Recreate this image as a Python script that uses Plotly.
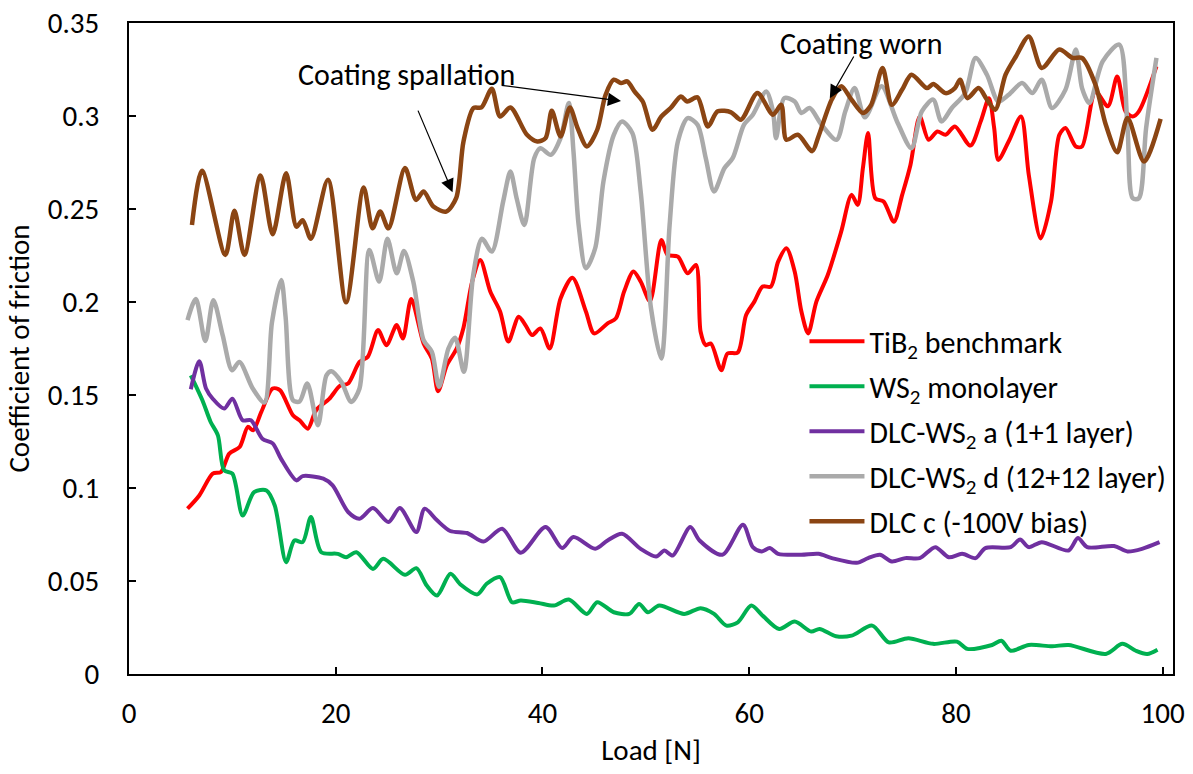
import plotly.graph_objects as go

# ---- data ----
load_tib2 = [5.66,6.8,8.1,8.9,9.7,10.7,11.5,12.0,12.8,13.9,14.6,15.86,16.5,17.3,18.1,19.4,20.4,21.2,22.3,23.1,
             24.1,24.9,25.9,26.5,27.3,28.5,29.3,29.9,30.75,31.7,32.36,33.2,33.98,34.95,35.9,36.7,37.7,38.35,39.0,39.8,
             40.7,41.75,42.9,44.2,45.0,46.3,47.1,47.9,48.8,49.5,50.4,51.5,52.1,53.1,54.05,54.85,55.3,55.8,56.3,57.3,
             57.9,58.9,59.7,60.5,61.3,62.1,62.8,63.6,64.4,65.05,65.7,66.5,67.6,68.9,69.9,70.5,71.0,71.5,72.2,73.0,
             74.0,74.8,75.6,76.5,77.35,78.2,79.0,79.9,81.4,82.4,83.2,83.7,84.1,85.1,86.3,87.05,88.2,89.2,90.0,90.6,
             91.6,92.2,93.5,94.7,95.6,96.4,97.1,97.7,99.4]
cof_tib2 = [.0889,.096,.1077,.1086,.1185,.122,.1329,.131,.1409,.1535,.1526,.1391,.1364,.1319,.1418,.1481,.1549,.1562,.1678,.1705,
            .1849,.1768,.1876,.1804,.2016,.1777,.1696,.152,.166,.175,.1862,.211,.2226,.2056,.1949,.1787,.1921,.1876,.1822,.1858,
            .175,.2019,.213,.1949,.1831,.1885,.1912,.2056,.2164,.211,.2005,.2334,.2253,.2244,.2154,.2199,.184,.1768,.1777,.1633,
            .1723,.1729,.193,.2002,.2083,.2083,.2217,.2289,.2164,.1949,.1831,.2002,.2145,.2378,.2576,.2522,.272,.2908,.2558,.254,
            .2432,.2576,.2737,.2997,.2872,.2917,.2899,.2944,.2841,.2971,.3096,.2935,.2764,.2863,.2997,.2683,.2342,.254,.2899,.2935,
            .2836,.2836,.3132,.3052,.3213,.3025,.2997,.3025,.3267]

load_ws2 = [5.98,7.1,7.9,8.6,9.2,10.0,11.0,12.1,13.3,14.1,15.2,16.0,16.8,17.6,18.6,20.2,21.0,22.0,23.6,24.6,
            26.7,27.8,28.8,29.8,31.1,32.1,33.7,34.6,35.9,37.05,37.9,39.6,41.1,42.55,44.3,45.3,46.9,48.4,49.35,50.2,
            51.3,53.7,55.3,56.6,57.8,58.9,60.2,61.3,62.9,64.4,66.0,66.8,68.4,69.9,71.9,73.5,75.4,77.8,80.1,81.1,
            83.5,84.4,85.3,87.05,89.3,90.9,94.5,96.1,97.4,98.5,99.5]
cof_ws2 = [.1606,.1472,.1355,.1283,.1095,.1077,.0852,.0978,.0987,.0906,.0601,.0718,.0709,.0844,.0655,.0646,.0628,.0655,.0565,.0619,
           .0533,.0569,.0476,.0422,.0539,.0480,.0428,.0485,.0521,.0386,.0395,.0382,.0368,.04,.0323,.0386,.0332,.0323,.0377,.0332,
           .0368,.0323,.0354,.0323,.026,.0278,.0368,.0314,.0242,.0282,.0228,.0242,.0203,.0206,.026,.017,.0192,.0162,.0174,.0135,
           .0156,.0179,.0125,.0156,.0149,.0156,.0108,.0162,.0125,.0108,.0131]

load_dlc_a = [5.98,6.8,7.45,8.1,9.2,10.0,11.0,11.8,12.9,13.9,14.7,16.2,16.8,18.8,19.7,21.2,22.3,23.6,25.1,26.2,
              27.8,28.6,29.8,31.07,32.7,34.3,36.1,37.9,40.3,41.9,43.0,45.1,46.3,47.7,49.5,51.0,51.8,52.6,54.3,55.2,
              57.4,59.4,60.35,61.2,62.0,62.8,65.05,66.7,68.0,70.4,71.5,72.65,73.8,75.1,76.5,78.0,79.3,80.6,81.9,82.85,
              85.3,86.2,87.05,88.3,90.9,91.8,92.7,95.3,96.6,98.0,99.7]
cof_dlc_a = [.1531,.1682,.1535,.148,.1427,.148,.1364,.1364,.1265,.124,.1158,.1041,.1064,.105,.1014,.0871,.0835,.0892,.0817,.0892,
             .0763,.0889,.0826,.0769,.0758,.0712,.0781,.0652,.079,.0677,.0736,.0673,.0718,.0754,.0673,.0632,.0664,.0637,.079,.0718,
             .0641,.0802,.0682,.0659,.0677,.0646,.0641,.0646,.0623,.0598,.0623,.0641,.0605,.0623,.0623,.0682,.0628,.0646,.0623,.0677,
             .0682,.0723,.0682,.0709,.0664,.0731,.0682,.0688,.0659,.0673,.0709]

load_dlc_d = [5.66,6.47,7.38,8.16,9.06,9.97,10.68,11.97,13.1,13.83,14.73,15.15,15.86,16.5,17.25,18.28,19.1,19.58,20.55,21.5,
              22.3,23.25,24.2,25.0,25.9,26.6,27.5,28.5,29.3,30.0,30.9,31.55,32.4,33.3,34.15,35.1,36.2,36.9,37.5,38.25,
              39.2,39.8,40.8,41.75,42.55,43.0,43.5,44.2,45.1,45.9,46.9,47.7,48.7,49.5,50.5,51.5,52.3,53.1,54.05,55.0,
              55.8,56.6,57.6,58.4,59.5,60.35,61.65,62.3,62.6,63.4,64.4,65.05,65.85,67.0,68.45,69.3,70.2,71.2,72.8,74.3,
              75.7,76.7,77.8,78.6,79.6,80.9,81.9,83.0,84.1,85.1,86.4,87.4,88.3,89.3,90.6,91.6,92.2,92.9,94.2,95.8,
              96.6,97.1,97.7,98.4,99.4]
cof_dlc_d = [.1903,.2016,.179,.201,.1822,.1633,.1678,.1535,.146,.189,.2118,.192,.1472,.1465,.1562,.1337,.1606,.1628,.157,.1463,
             .1535,.228,.211,.234,.2154,.2274,.211,.1795,.1732,.1544,.175,.1808,.1625,.2145,.234,.2271,.2541,.2702,.2558,.2414,
             .2773,.2827,.2791,.2881,.307,.2809,.2414,.2181,.2289,.2649,.2899,.2971,.2908,.2594,.1966,.1696,.2414,.2863,.2989,.2953,
             .2773,.2594,.2719,.2773,.2953,.3007,.3132,.3025,.2881,.3096,.3078,.3016,.3043,.2953,.2872,.3025,.315,.2993,.316,.2971,
             .2827,.3025,.3088,.2971,.3043,.3123,.3312,.3222,.3078,.3114,.3177,.3123,.3195,.3043,.3142,.3357,.315,.307,.3294,.3384,
             .2935,.2558,.2558,.2935,.3312]

load_dlc_c = [6.09,7.06,9.32,10.2,11.17,12.72,13.9,15.2,16.2,16.8,17.6,19.25,21.0,22.7,23.56,24.3,25.1,26.7,27.77,28.5,
              29.45,30.68,31.65,32.36,33.33,34.1,35.1,35.9,36.9,38.5,39.5,40.3,40.9,41.75,42.65,43.4,44.3,45.3,46.1,46.9,
              47.6,48.2,48.9,49.7,50.65,51.5,52.4,53.4,54.0,55.0,56.0,56.95,58.25,59.2,60.8,62.3,63.1,63.6,64.7,66.1,
              66.7,68.0,68.9,69.9,71.0,71.8,72.9,73.8,74.8,75.7,77.2,77.8,79.0,79.9,80.4,81.1,82.2,83.0,83.8,84.8,
              85.8,87.05,88.3,90.0,91.3,92.2,93.5,94.5,95.6,96.6,98.2,99.8]
cof_dlc_c = [.2414,.2705,.2253,.2490,.2253,.268,.2364,.2692,.2405,.244,.234,.2657,.1998,.2616,.2396,.2486,.2396,.272,.2549,.2594,
             .2513,.2486,.2558,.2863,.3043,.3046,.3146,.2997,.3046,.2899,.2863,.2881,.3028,.289,.3046,.2935,.2836,.2926,.3113,.3195,
             .3177,.3186,.3132,.3078,.2926,.2997,.3043,.3105,.3078,.31,.2944,.3025,.302,.298,.3123,.3007,.306,.2872,.2899,.2811,
             .289,.309,.316,.3088,.3016,.306,.3258,.306,.3142,.3222,.315,.3172,.3123,.315,.3195,.3096,.315,.3088,.3034,.3222,
             .332,.3428,.3258,.3357,.3312,.3312,.3168,.2953,.2805,.2989,.2755,.2985]

series_names = ["TiB<sub>2</sub> benchmark", "WS<sub>2</sub> monolayer", "DLC-WS<sub>2</sub> a (1+1 layer)",
                "DLC-WS<sub>2</sub> d (12+12 layer)", "DLC c (-100V bias)"]
x_ticks = [0, 20, 40, 60, 80, 100]
y_ticks = [0, 0.05, 0.1, 0.15, 0.2, 0.25, 0.3, 0.35]
y_tick_text = ["0", "0.05", "0.1", "0.15", "0.2", "0.25", "0.3", "0.35"]

series = [
    (load_tib2, cof_tib2, "#FF0000", 4),
    (load_ws2, cof_ws2, "#00B050", 4),
    (load_dlc_a, cof_dlc_a, "#7030A0", 4),
    (load_dlc_d, cof_dlc_d, "#AAAAAA", 4.5),
    (load_dlc_c, cof_dlc_c, "#8B4513", 4.5),
]
for xs, ys, _, _ in series:
    assert len(xs) == len(ys), (len(xs), len(ys))

FONT = "Carlito, Calibri, Lato, sans-serif"

fig = go.Figure()
for i, (xs, ys, col, w) in enumerate(series):
    fig.add_trace(go.Scatter(x=xs, y=ys, mode="lines", name=series_names[i],
                             line=dict(color=col, width=w, shape="spline", smoothing=0.8),
                             legendgroup=f"g{i}"))

fig.update_layout(
    width=1193, height=774,
    margin=dict(l=129, r=20, t=23, b=100, autoexpand=False),
    paper_bgcolor="white", plot_bgcolor="white",
    font=dict(family=FONT, color="black", size=29),
    showlegend=True,
    legend=dict(x=0.647, y=0.551, xanchor="left", yanchor="top",
                bgcolor="rgba(0,0,0,0)", font=dict(family=FONT, size=30, color="black"),
                itemwidth=55, tracegroupgap=3, traceorder="grouped"),
    xaxis=dict(range=[0, 101], tickvals=x_ticks, ticks="inside", ticklen=7, tickwidth=1.5,
               tickcolor="black", showline=True, linecolor="black", linewidth=2, mirror=True,
               showgrid=False, zeroline=False, ticklabelstandoff=12, automargin=False,
               tickfont=dict(family=FONT, size=29),
               title=dict(text="Load [N]", font=dict(family=FONT, size=29), standoff=10)),
    yaxis=dict(range=[0, 0.35], tickvals=y_ticks, ticktext=y_tick_text, ticks="inside", ticklen=7,
               tickwidth=1.5, tickcolor="black", showline=True, linecolor="black", linewidth=2,
               mirror=True, showgrid=False, zeroline=False, ticklabelstandoff=22, automargin=False,
               tickfont=dict(family=FONT, size=29),
               title=dict(text="Coefficient of friction", font=dict(family=FONT, size=29), standoff=10)),
)

ann_font = dict(family=FONT, size=30, color="black")
fig.add_annotation(x=26.8, y=0.3225, xref="x", yref="y", text="Coating spallation",
                   showarrow=False, font=ann_font)
fig.add_annotation(x=70.9, y=0.339, xref="x", yref="y", text="Coating worn",
                   showarrow=False, font=ann_font)
arrows = [
    (47.6, 0.308, 35.9, 0.3166),
    (31.3, 0.259, 27.9, 0.3037),
    (67.8, 0.3096, 70.2, 0.3328),
]
for tx, ty, sx, sy in arrows:
    fig.add_annotation(x=tx, y=ty, ax=sx, ay=sy, xref="x", yref="y", axref="x", ayref="y",
                       text="", showarrow=True, arrowhead=2, arrowsize=2.2, arrowwidth=1.2,
                       arrowcolor="black", standoff=0)

fig.write_html("out.html", config={"displayModeBar": False},
               post_script="document.body.style.margin='0';")
